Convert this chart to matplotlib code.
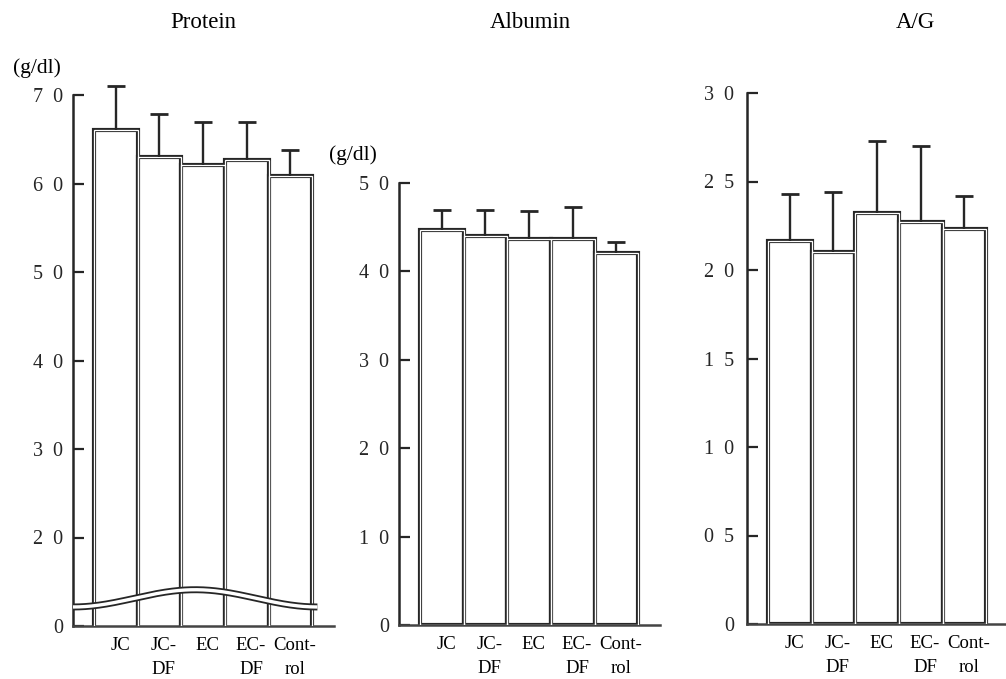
import numpy as np
import matplotlib
matplotlib.use("Agg")
from matplotlib import pyplot as plt

# data
groups = ["JC", "JC-\nDF", "EC", "EC-\nDF", "Cont-\nrol"]

protein_mean = [6.60, 6.30, 6.21, 6.26, 6.08]
protein_sd = [0.50, 0.49, 0.49, 0.44, 0.30]

albumin_mean = [4.47, 4.40, 4.37, 4.37, 4.21]
albumin_sd = [0.23, 0.30, 0.31, 0.36, 0.12]

ag_mean = [2.165, 2.10, 2.32, 2.27, 2.23]
ag_sd = [0.265, 0.34, 0.41, 0.43, 0.19]

protein_ticks = [1.0, 2.0, 3.0, 4.0, 5.0, 6.0, 7.0]  # 1.0 stands for the broken "0"
protein_labels = ["0", "2  0", "3  0", "4  0", "5  0", "6  0", "7  0"]
albumin_ticks = [0, 1.0, 2.0, 3.0, 4.0, 5.0]
albumin_labels = ["0", "1  0", "2  0", "3  0", "4  0", "5  0"]
ag_ticks = [0, 0.5, 1.0, 1.5, 2.0, 2.5, 3.0]
ag_labels = ["0", "0  5", "1  0", "1  5", "2  0", "2  5", "3  0"]

plt.rcParams["font.family"] = ["Liberation Serif", "DejaVu Serif"]

W, H = 1006, 679
fig = plt.figure(figsize=(W / 100, H / 100), dpi=100)
ink = "#262626"


def px_axes(left, bottom, right, top):
    return fig.add_axes([left / W, 1 - bottom / H, (right - left) / W, (bottom - top) / H])


def draw_panel(ax, means, sds, ylo, yhi, ticks, labels, pad=7):
    x = np.arange(len(means))
    means = np.asarray(means)
    tops = means + np.asarray(sds)
    ax.bar(x, means, width=1.0, color="white", edgecolor=ink,
           linewidth=3.0, zorder=2)
    ax.bar(x, means, width=1.0, color="none", edgecolor="white",
           linewidth=0.9, zorder=3)
    # upper error bar only, cap at the top
    ax.vlines(x, means, tops, colors=ink, linewidth=1.7, zorder=4, clip_on=False)
    ax.plot(x, tops, linestyle="none", marker="_", markersize=13,
            markeredgewidth=2.0, color=ink, zorder=4, clip_on=False)
    ax.set_xlim(-0.98, 5.0)
    ax.set_ylim(ylo, yhi)
    for s in ["top", "right"]:
        ax.spines[s].set_visible(False)
    ax.spines["left"].set_linewidth(1.8)
    ax.spines["bottom"].set_linewidth(1.8)
    ax.spines["left"].set_color(ink)
    ax.spines["bottom"].set_color("#444444")
    ax.set_yticks(ticks)
    ax.set_yticklabels(labels, fontsize=14.5)
    ax.tick_params(axis="y", direction="in", length=8, width=1.6, pad=pad, colors=ink)
    ax.set_xticks(x + 0.1)
    ax.set_xticklabels(groups, fontsize=13.5, linespacing=1.5)
    ax.tick_params(axis="x", length=0, pad=8)
    ax.patch.set_alpha(0)
    return x


ax1 = px_axes(73, 626, 334, 95)
draw_panel(ax1, protein_mean, protein_sd, 1.0, 7.0, protein_ticks, protein_labels)

# axis break mark on the protein panel
xs = np.linspace(-0.98, 4.62, 200)
t = (xs - xs[0]) / (xs[-1] - xs[0])
ys = 1.215 + 0.195 * 0.5 * (1 - np.cos(2 * np.pi * t))
ax1.plot(xs, ys, color=ink, lw=5.0, solid_capstyle="butt", zorder=5, clip_on=False)
ax1.plot(xs, ys, color="white", lw=2.4, solid_capstyle="butt", zorder=6, clip_on=False)

ax2 = px_axes(399, 625, 660, 183)
draw_panel(ax2, albumin_mean, albumin_sd, 0, 5.0, albumin_ticks, albumin_labels)

ax3 = px_axes(747, 624, 1008, 93)
draw_panel(ax3, ag_mean, ag_sd, 0, 3.0, ag_ticks, ag_labels, pad=9)

fig.text(203 / W, 1 - 23 / H, "Protein", ha="center", va="center", fontsize=16.5)
fig.text(530 / W, 1 - 22 / H, "Albumin", ha="center", va="center", fontsize=16.5)
fig.text(915 / W, 1 - 22 / H, "A/G", ha="center", va="center", fontsize=16.5)

fig.text(37 / W, 1 - 68 / H, "(g/dl)", ha="center", va="center", fontsize=15.5)
fig.text(353 / W, 1 - 155 / H, "(g/dl)", ha="center", va="center", fontsize=15.5)

fig.savefig("out.png", dpi=100)
